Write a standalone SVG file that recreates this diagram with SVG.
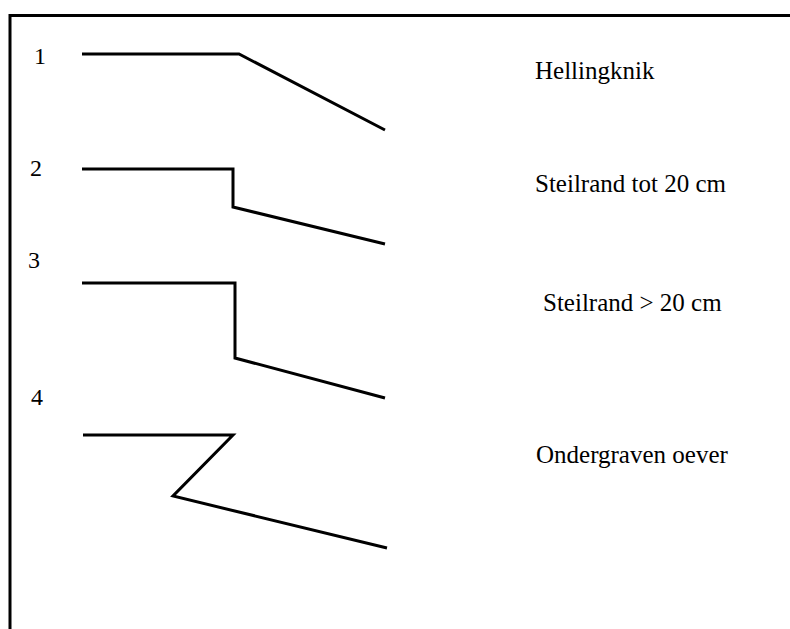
<svg xmlns="http://www.w3.org/2000/svg" width="790" height="629" viewBox="0 0 790 629">
<style>
.ln{fill:none;stroke:#000;stroke-width:3;stroke-linejoin:miter}
.fr{fill:none;stroke:#000;stroke-width:3}
.num{font-family:"Liberation Serif",serif;font-size:24px;fill:#000}
.lbl{font-family:"Liberation Serif",serif;font-size:25px;fill:#000}
</style>
<rect width="790" height="629" fill="#fff"/>
<g id="frame">
<path class="fr" d="M10,629 V15.5 H790"/>
</g>
<g id="profile1">
<text class="num" x="34" y="64">1</text>
<text class="lbl" x="535" y="79">Hellingknik</text>
</g>
<g id="profile2">
<text class="num" x="30" y="176">2</text>
<text class="lbl" x="535" y="192">Steilrand tot 20 cm</text>
</g>
<g id="profile3">
<text class="num" x="28" y="268">3</text>
<text class="lbl" x="543" y="311">Steilrand &gt; 20 cm</text>
</g>
<g id="profile4">
<text class="num" x="31" y="405">4</text>
<text class="lbl" x="536" y="463">Ondergraven oever</text>
</g>
<g id="connectors">
<polyline class="ln" points="82,54 239,54 385,130"/>
<polyline class="ln" points="82,169 233,169 233,207 385,244"/>
<polyline class="ln" points="82,283 235,283 235,358 385,398"/>
<polyline class="ln" points="83,435 233,435 173,496 387,548"/>
</g>
</svg>
